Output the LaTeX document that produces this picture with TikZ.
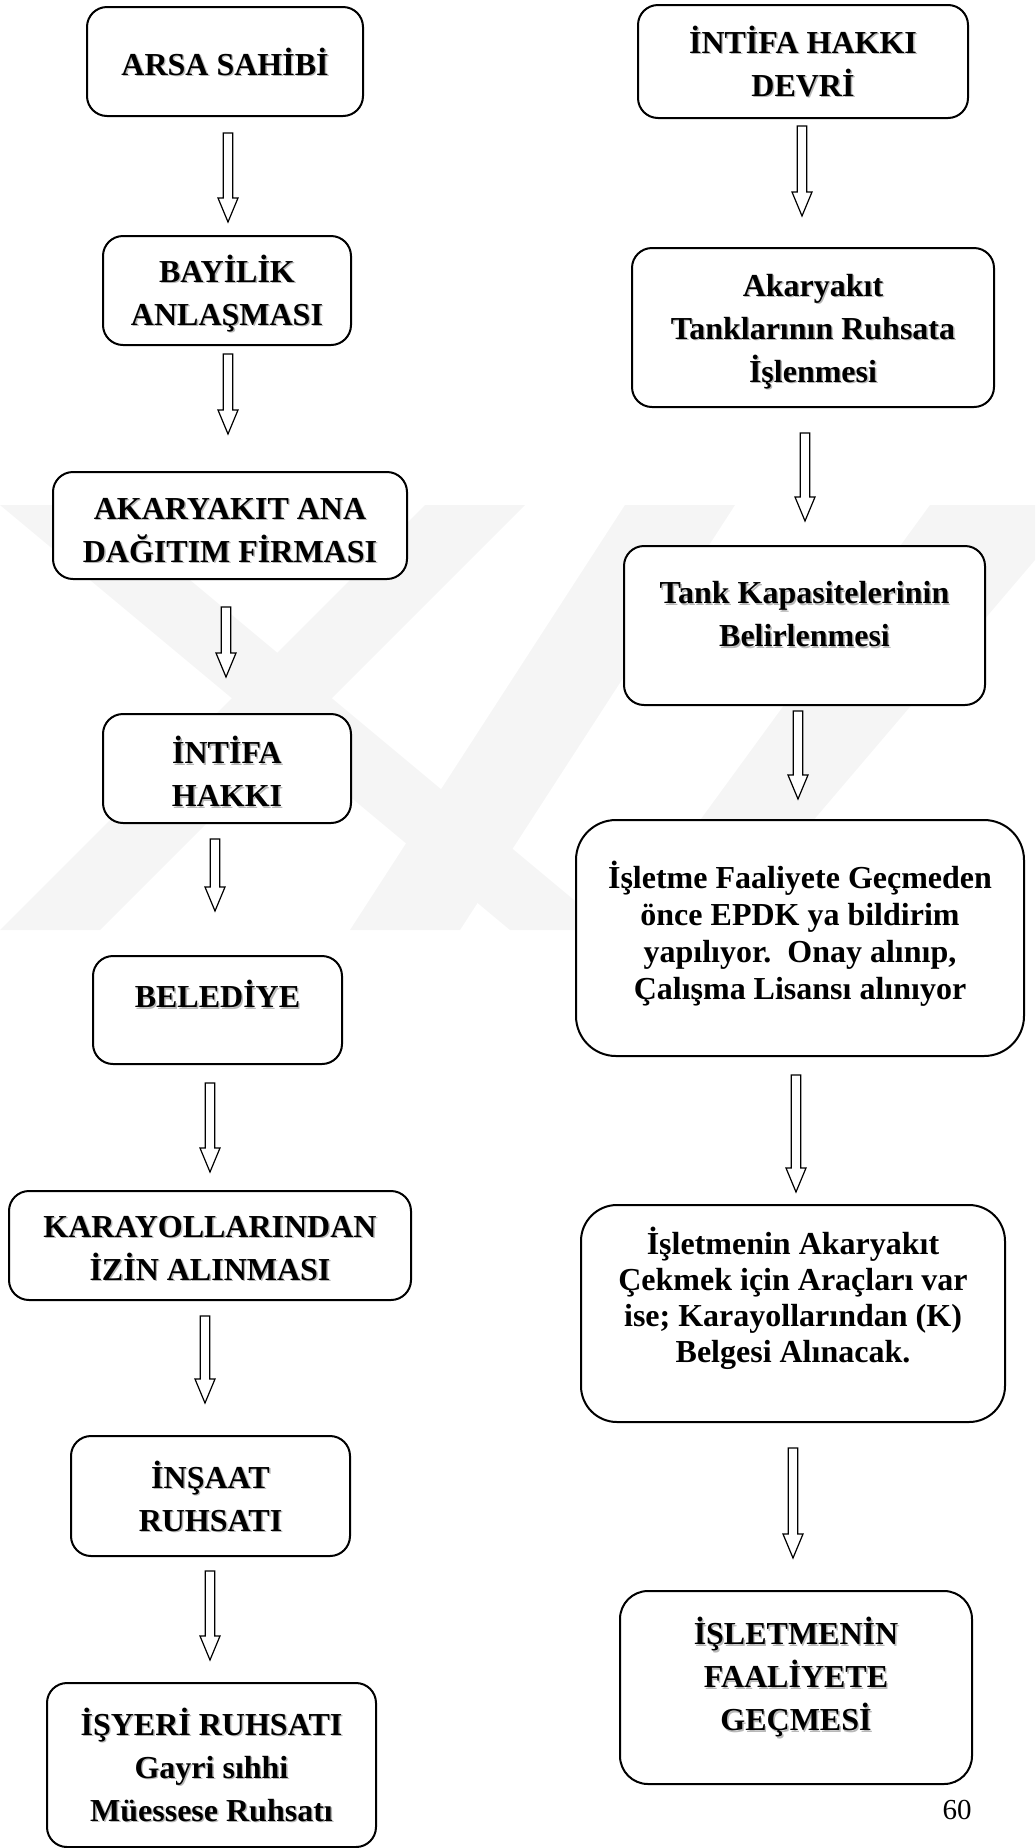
\documentclass[tikz,border=0pt]{standalone}
\usepackage{fontspec}
\setmainfont{Liberation Serif}
\usetikzlibrary{positioning, calc}
\tikzstyle{box} = [draw, line width=1pt, rounded corners=10pt, fill=white, inner sep=0pt]
\tikzstyle{lbl} = [align=center, inner sep=0pt, font=\fontsize{16}{21.5}\selectfont\bfseries]
\tikzstyle{harrow} = [draw, line width=0.6pt, fill=white]
\tikzstyle{wmark} = [fill=black!4, draw=none]
\newcommand{\flowarrow}[2]{%
  \draw[harrow] let \p1=(#1), \p2=(#2) in
    (\x1-2.4pt,\y1) -- (\x1+2.4pt,\y1) -- (\x1+2.4pt,\y2+12pt) -- (\x1+5pt,\y2+12pt)
    -- (\x1,\y2) -- (\x1-5pt,\y2+12pt) -- (\x1-2.4pt,\y2+12pt) -- cycle;}
% text with a soft shadow: name, box, yshift, text
\newcommand{\shadowlabel}[4]{%
  \node[lbl, text=black!28] (#1s) at ([xshift=0.7pt, yshift=#3-0.7pt]#2.center) {#4};
  \node[lbl] (#1) at ([yshift=#3]#2.center) {#4};}

\begin{document}
\begin{tikzpicture}[x=0.5pt, y=-0.5pt]
    \useasboundingbox (0,0) rectangle (1035,1848);

    % Watermark in the background
    \fill[wmark] (0,505) -- (100,505) -- (610,930) -- (510,930) -- cycle;
    \fill[wmark] (0,930) -- (100,930) -- (525,505) -- (425,505) -- cycle;
    \fill[wmark] (625,505) -- (735,505) -- (460,930) -- (350,930) -- cycle;
    \fill[wmark] (930,505) -- (1035,505) -- (1035,560) -- (720,930) -- (620,930) -- cycle;

    % Left column
    \node[box, minimum width=138pt, minimum height=54.5pt] (L1) at (225,61.5) {};
    \shadowlabel{t1}{L1}{0pt}{ARSA SAHİBİ}
    \node[box, minimum width=124pt, minimum height=54.5pt] (L2) at (227,290.5) {};
    \shadowlabel{t2}{L2}{-1.5pt}{BAYİLİK\\ANLAŞMASI}
    \node[box, minimum width=177pt, minimum height=53.5pt] (L3) at (230,525.5) {};
    \shadowlabel{t3}{L3}{-2.5pt}{AKARYAKIT ANA\\DAĞITIM FİRMASI}
    \node[box, minimum width=124pt, minimum height=54.5pt] (L4) at (227,768.5) {};
    \shadowlabel{t4}{L4}{-1.5pt}{İNTİFA\\HAKKI}
    \node[box, minimum width=124.5pt, minimum height=54pt] (L5) at (217.5,1010) {};
    \shadowlabel{t5}{L5}{8pt}{BELEDİYE}
    \node[box, minimum width=201pt, minimum height=54.5pt] (L6) at (210,1245.5) {};
    \shadowlabel{t6}{L6}{-1.5pt}{KARAYOLLARINDAN\\İZİN ALINMASI}
    \node[box, minimum width=139.5pt, minimum height=60pt] (L7) at (210.5,1496) {};
    \shadowlabel{t7}{L7}{0pt}{İNŞAAT\\RUHSATI}
    \node[box, minimum width=164.5pt, minimum height=82pt] (L8) at (211.5,1765) {};
    \shadowlabel{t8}{L8}{0pt}{İŞYERİ RUHSATI\\Gayri sıhhi\\Müessese Ruhsatı}

    % Right column
    \node[box, minimum width=165pt, minimum height=56.5pt] (R1) at (803,61.5) {};
    \shadowlabel{u1}{R1}{0pt}{İNTİFA HAKKI\\DEVRİ}
    \node[box, minimum width=181pt, minimum height=79.5pt] (R2) at (813,327.5) {};
    \shadowlabel{u2}{R2}{-2pt}{Akaryakıt\\Tanklarının Ruhsata\\İşlenmesi}
    \node[box, minimum width=180.5pt, minimum height=79.5pt] (R3) at (804.5,625.5) {};
    \shadowlabel{u3}{R3}{5.5pt}{Tank Kapasitelerinin\\Belirlenmesi}
    \node[box, rounded corners=20pt, minimum width=224pt, minimum height=118pt] (R4) at (800,938) {};
    \node[lbl, font=\fontsize{16}{18.5}\selectfont\bfseries] (u4) at ([yshift=2pt]R4.center)
        {İşletme Faaliyete Geçmeden\\önce EPDK ya bildirim\\yapılıyor.\ \ Onay alınıp,\\Çalışma Lisansı alınıyor};
    \node[box, rounded corners=18pt, minimum width=212pt, minimum height=108.5pt] (R5) at (793,1313.5) {};
    \node[lbl, font=\fontsize{16}{18}\selectfont\bfseries] (u5) at ([yshift=7.5pt]R5.center)
        {İşletmenin Akaryakıt\\Çekmek için Araçları var\\ise; Karayollarından (K)\\Belgesi Alınacak.};
    \node[box, rounded corners=14pt, minimum width=176pt, minimum height=96.5pt] (R6) at (796,1687.5) {};
    \shadowlabel{u6}{R6}{5pt}{İŞLETMENİN\\FAALİYETE\\GEÇMESİ}

    % Page number
    \node[font=\fontsize{14.5}{17}\selectfont] (page) at (957,1810) {60};

    % Arrow ends
    \coordinate (a1s) at (228,133);  \coordinate (a1e) at (228,222);
    \coordinate (a2s) at (228,354);  \coordinate (a2e) at (228,434);
    \coordinate (a3s) at (226,607);  \coordinate (a3e) at (226,677);
    \coordinate (a4s) at (215,839);  \coordinate (a4e) at (215,911);
    \coordinate (a5s) at (210,1083); \coordinate (a5e) at (210,1172);
    \coordinate (a6s) at (205,1316); \coordinate (a6e) at (205,1403);
    \coordinate (a7s) at (210,1571); \coordinate (a7e) at (210,1660);
    \coordinate (b1s) at (802,126);  \coordinate (b1e) at (802,216);
    \coordinate (b2s) at (805,433);  \coordinate (b2e) at (805,521);
    \coordinate (b3s) at (798,711);  \coordinate (b3e) at (798,799);
    \coordinate (b4s) at (796,1075); \coordinate (b4e) at (796,1192);
    \coordinate (b5s) at (793,1448); \coordinate (b5e) at (793,1558);

    \foreach \i in {1,...,7} {\flowarrow{a\i s}{a\i e}}
    \foreach \i in {1,...,5} {\flowarrow{b\i s}{b\i e}}
\end{tikzpicture}
\end{document}
